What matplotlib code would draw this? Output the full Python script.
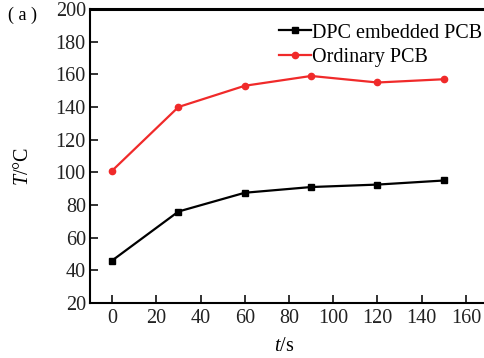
import matplotlib.pyplot as plt

plt.rcParams['font.family'] = ['Liberation Serif', 'DejaVu Serif']
plt.rcParams['mathtext.fontset'] = 'custom'
plt.rcParams['mathtext.it'] = 'Liberation Serif:italic'
plt.rcParams['mathtext.rm'] = 'Liberation Serif'

# time (s) and temperature (°C)
t = [0, 30, 60, 90, 120, 150]
dpc_pcb = [46, 76, 87.5, 91, 92.5, 95]
ordinary_pcb = [101, 140, 153, 159, 155, 157]

xticks = [0, 20, 40, 60, 80, 100, 120, 140, 160]
yticks = [20, 40, 60, 80, 100, 120, 140, 160, 180, 200]

fig = plt.figure(figsize=(4.85, 3.58), dpi=100)
# axes run a little past the right edge, as in the original
ax = fig.add_axes([90 / 485, 1 - 303 / 358, 398 / 485, 294 / 358])

ax.plot(t, dpc_pcb, color='black', lw=1.6, marker='s', ms=4.5,
        label='DPC embedded PCB')
ax.plot(t, ordinary_pcb, color='#f02a2a', lw=1.6, marker='o', ms=4.5,
        label='Ordinary PCB')

ax.set_xlim(-10, 170)
ax.set_ylim(20, 200)
ax.set_xticks(xticks)
ax.set_yticks(yticks)
ax.tick_params(direction='in', length=6, width=1.3, labelsize=14.5,
               colors='#222222', pad=3)
ax.tick_params(axis='x', pad=4)
for s in ax.spines.values():
    s.set_linewidth(1.5)
ax.spines['top'].set_linewidth(2.2)

ax.set_xlabel(r'$t$/s', fontsize=14.5)
ax.set_ylabel(r'$T$/°C', fontsize=14.5)
ax.xaxis.set_label_coords(0.487, -0.115)
ax.yaxis.set_label_coords(-0.143, 0.465)
fig.text(8 / 485, 1 - 15 / 358, '( a )', fontsize=13, va='center')

ax.legend(loc='upper right', bbox_to_anchor=(395 / 398 + 0.023, 0.992),
          frameon=False, fontsize=14.5, handlelength=1.6, handletextpad=0.05,
          borderaxespad=0.2, labelspacing=0.25)

fig.savefig('out.png', dpi=100)
